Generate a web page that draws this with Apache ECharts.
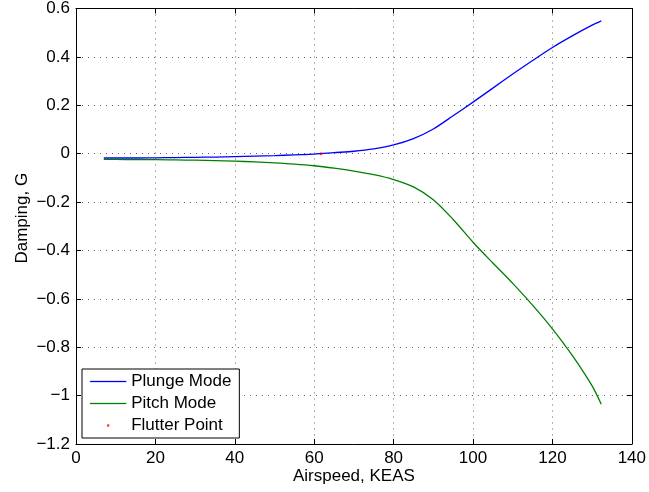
<!DOCTYPE html>
<html>
<head>
<meta charset="utf-8">
<title>Damping vs Airspeed</title>
<script src="https://cdn.jsdelivr.net/npm/echarts@6/dist/echarts.min.js"></script>
<style>
  html, body { margin: 0; padding: 0; background: #fff; }
  #chart { width: 649px; height: 492px; }
</style>
</head>
<body>
<div id="chart"></div>
<script>
// values
const airspeed = [7, 10, 15, 20, 25, 30, 35, 40, 45, 50, 55, 60, 65, 70, 75, 80, 85, 90, 95, 100, 105, 110, 115, 120, 125, 130, 132.3]
const plungeMode = [-0.018, -0.018, -0.018, -0.017, -0.016, -0.015, -0.014, -0.012, -0.010, -0.008, -0.005, -0.002, 0.004, 0.010, 0.020, 0.036, 0.062, 0.102, 0.157, 0.213, 0.271, 0.329, 0.385, 0.439, 0.487, 0.531, 0.549]
const pitchMode = [-0.024, -0.024, -0.025, -0.025, -0.026, -0.027, -0.029, -0.031, -0.034, -0.038, -0.043, -0.050, -0.060, -0.072, -0.087, -0.107, -0.137, -0.190, -0.272, -0.366, -0.452, -0.536, -0.626, -0.724, -0.834, -0.960, -1.036]
const flutterPoint = [[61.7, 0]]
const xTicks = [0, 20, 40, 60, 80, 100, 120, 140]
const yTicks = [-1.2, -1, -0.8, -0.6, -0.4, -0.2, 0, 0.2, 0.4, 0.6]

const FONT = 'Liberation Sans, Arial, Helvetica, sans-serif'
const fmt = v => String(+(+v).toFixed(2)).replace('-', '\u2212')
const LINE_ICON = 'path://M0,0M36,12M0,5.5h36v1h-36z'

const chart = echarts.init(document.getElementById('chart'))

// top / right axes only draw the frame and the inward ticks
const boxAxis = {
  axisLine: { show: true, onZero: false, lineStyle: { color: '#000', width: 1 } },
  axisTick: { show: true, inside: true, length: 5, lineStyle: { color: '#000' } },
  splitLine: { show: false },
  axisLabel: { show: false }
}

const legendItem = (name, color, icon) => ({
  name,
  icon,
  itemStyle: { color, borderColor: color, borderWidth: 0.3 },
  lineStyle: { color }
})

const options = {
  animation: false,
  backgroundColor: '#fff',
  textStyle: { fontFamily: FONT },
  grid: { left: 76, right: 16, top: 5, bottom: 48, containLabel: false },
  legend: {
    orient: 'vertical',
    left: 82,
    top: 369,
    padding: [4, 8, 4, 8],
    itemGap: 5,
    itemWidth: 36,
    itemHeight: 12,
    selectedMode: false,
    backgroundColor: '#fff',
    borderColor: '#000',
    borderWidth: 1,
    borderRadius: 0,
    textStyle: { fontFamily: FONT, fontSize: 17, lineHeight: 16, color: '#000' },
    data: [
      legendItem('Plunge Mode', '#0000ff', LINE_ICON),
      legendItem('Pitch Mode', '#008000', LINE_ICON),
      legendItem('Flutter Point', '#ff0000', 'path://M0,0M36,12M17,5h2v2h-2z')
    ]
  },
  xAxis: [{
    type: 'value',
    min: xTicks[0],
    max: xTicks[xTicks.length - 1],
    interval: 20,
    name: 'Airspeed, KEAS',
    nameLocation: 'middle',
    nameGap: 24,
    nameMoveOverlap: false,
    nameTextStyle: { fontFamily: FONT, fontSize: 17, color: '#000' },
    axisLine: { show: true, onZero: false, lineStyle: { color: '#000', width: 1 } },
    axisTick: { show: true, inside: true, length: 5, lineStyle: { color: '#000' } },
    axisLabel: { show: true, margin: 6, fontFamily: FONT, fontSize: 17, color: '#000', formatter: fmt },
    splitLine: { show: true, lineStyle: { color: '#666', width: 1, type: [1, 5] } }
  }, Object.assign({
    type: 'value', position: 'top', min: xTicks[0], max: xTicks[xTicks.length - 1], interval: 20
  }, boxAxis)],
  yAxis: [{
    type: 'value',
    min: yTicks[0],
    max: yTicks[yTicks.length - 1],
    interval: 0.2,
    name: 'Damping, G',
    nameLocation: 'middle',
    nameGap: 45,
    nameMoveOverlap: false,
    nameTextStyle: { fontFamily: FONT, fontSize: 17, color: '#000', padding: [0, 0, 0, 16] },
    axisLine: { show: true, onZero: false, lineStyle: { color: '#000', width: 1 } },
    axisTick: { show: true, inside: true, length: 5, lineStyle: { color: '#000' } },
    axisLabel: { show: true, margin: 6, fontFamily: FONT, fontSize: 17, color: '#000', formatter: fmt },
    splitLine: { show: true, lineStyle: { color: '#666', width: 1, type: [1, 5] } }
  }, Object.assign({
    type: 'value', position: 'right', min: yTicks[0], max: yTicks[yTicks.length - 1], interval: 0.2
  }, boxAxis)],
  series: [{
    name: 'Plunge Mode',
    type: 'line',
    data: airspeed.map((x, i) => [x, plungeMode[i]]),
    smooth: 0.3,
    symbol: 'none',
    color: '#0000ff',
    lineStyle: { color: '#0000ff', width: 1.3 },
    itemStyle: { color: '#0000ff' }
  }, {
    name: 'Pitch Mode',
    type: 'line',
    data: airspeed.map((x, i) => [x, pitchMode[i]]),
    smooth: 0.3,
    symbol: 'none',
    color: '#008000',
    lineStyle: { color: '#008000', width: 1.3 },
    itemStyle: { color: '#008000' }
  }, {
    name: 'Flutter Point',
    type: 'scatter',
    data: flutterPoint,
    symbol: 'circle',
    symbolSize: 3,
    z: 5,
    itemStyle: { color: '#ff0000' }
  }]
}

chart.setOption(options)
</script>
</body>
</html>
